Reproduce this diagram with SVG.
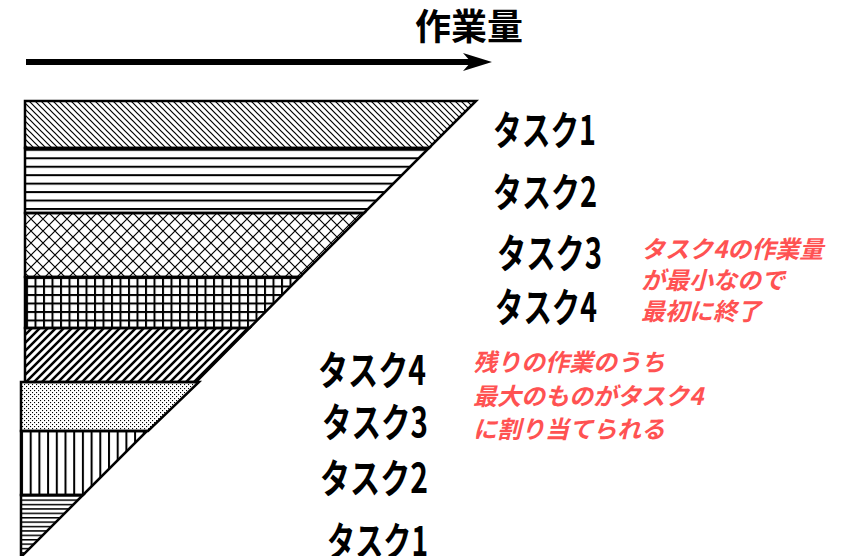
<svg xmlns="http://www.w3.org/2000/svg" width="847" height="556" viewBox="0 0 847 556">
<style>
.band{stroke:#000;stroke-width:2.5;stroke-linejoin:miter}
.lbl{font-family:"Noto Sans CJK JP","Noto Sans",sans-serif;font-weight:bold;font-size:40px;fill:#000}
.note{font-family:"Noto Sans CJK JP","Noto Sans",sans-serif;font-weight:bold;font-style:italic;font-size:24px;fill:#ff5252}
.title{font-family:"Noto Sans CJK JP","Noto Sans",sans-serif;font-weight:bold;font-size:36px;fill:#000}
</style>
<defs>
<pattern id="pBack" patternUnits="userSpaceOnUse" width="6" height="6">
<path d="M0,0 L6,6 M-1,5 L1,7 M5,-1 L7,1" stroke="#000" stroke-width="1.2"/>
</pattern>
<pattern id="pHoriz" patternUnits="userSpaceOnUse" x="0" y="157.3" width="20" height="8.45">
<rect x="0" y="0" width="20" height="2" fill="#000"/>
</pattern>
<pattern id="pDiamond" patternUnits="userSpaceOnUse" x="25" y="213" width="12" height="12">
<path d="M0,0 L12,12 M12,0 L0,12" stroke="#000" stroke-width="1.2"/>
</pattern>
<pattern id="pGrid" patternUnits="userSpaceOnUse" x="26" y="277" width="8.5" height="8.5">
<rect x="0" y="0" width="8.5" height="2" fill="#000"/>
<rect x="0" y="0" width="2" height="8.5" fill="#000"/>
</pattern>
<pattern id="pFwd" patternUnits="userSpaceOnUse" width="8" height="8">
<path d="M0,8 L8,0 M-2,2 L2,-2 M6,10 L10,6" stroke="#000" stroke-width="2.5"/>
</pattern>
<pattern id="pDots" patternUnits="userSpaceOnUse" width="4" height="4">
<rect x="0" y="0" width="1.1" height="1.1" fill="#000"/>
<rect x="2" y="2" width="1.1" height="1.1" fill="#000"/>
</pattern>
<pattern id="pVert" patternUnits="userSpaceOnUse" x="21" y="0" width="8.7" height="20">
<rect x="0" y="0" width="2" height="20" fill="#000"/>
</pattern>
<pattern id="pThin" patternUnits="userSpaceOnUse" x="0" y="495" width="20" height="4.4">
<rect x="0" y="0" width="20" height="1.5" fill="#000"/>
</pattern>
</defs>
<rect width="847" height="556" fill="#fff"/>

<g id="axis">
<line x1="26" y1="62" x2="472" y2="62" stroke="#000" stroke-width="6"/>
<polygon points="492,62 463,53 471,62 463,71" fill="#000"/>
<text class="title" x="415" y="40">作業量</text>
</g>

<g id="band-task1-top">
<polygon class="band" fill="url(#pBack)" points="25,101 476,101 429,148 25,148"/>
</g>
<g id="band-task2-top">
<polygon class="band" fill="url(#pHoriz)" points="25,148 429,148 364,213 25,213"/>
</g>
<g id="band-task3-top">
<polygon class="band" fill="url(#pDiamond)" points="25,213 364,213 300,277 25,277"/>
</g>
<g id="band-task4-top">
<polygon class="band" fill="url(#pGrid)" points="25,277 300,277 249.5,328 25,328"/>
</g>
<g id="band-task4-bottom">
<polygon class="band" fill="url(#pFwd)" points="25,328 249.5,328 196,382 25,382"/>
</g>
<g id="band-task3-bottom">
<polygon class="band" fill="url(#pDots)" points="21,382 199,382 148,431 21,431"/>
</g>
<g id="band-task2-bottom">
<polygon class="band" fill="url(#pVert)" points="21,431 147,431 83,495 21,495"/>
</g>
<g id="band-task1-bottom">
<polygon class="band" fill="url(#pThin)" points="21,495 83,495 20,558 21,558"/>
</g>

<g id="labels-top">
<text class="lbl" x="493" y="145" textLength="103" lengthAdjust="spacingAndGlyphs">タスク1</text>
<text class="lbl" x="493" y="207" textLength="104" lengthAdjust="spacingAndGlyphs">タスク2</text>
<text class="lbl" x="497" y="268" textLength="105" lengthAdjust="spacingAndGlyphs">タスク3</text>
<text class="lbl" x="495" y="322" textLength="102" lengthAdjust="spacingAndGlyphs">タスク4</text>
</g>
<g id="labels-bottom">
<text class="lbl" x="318" y="385" textLength="108" lengthAdjust="spacingAndGlyphs">タスク4</text>
<text class="lbl" x="322" y="437" textLength="106" lengthAdjust="spacingAndGlyphs">タスク3</text>
<text class="lbl" x="320" y="493" textLength="108" lengthAdjust="spacingAndGlyphs">タスク2</text>
<text class="lbl" x="327" y="556" textLength="101" lengthAdjust="spacingAndGlyphs">タスク1</text>
</g>

<g id="note-1">
<text class="note" x="641" y="258">タスク4の作業量</text>
<text class="note" x="641" y="289">が最小なので</text>
<text class="note" x="641" y="320">最初に終了</text>
</g>
<g id="note-2">
<text class="note" x="473" y="371">残りの作業のうち</text>
<text class="note" x="473" y="405">最大のものがタスク4</text>
<text class="note" x="473" y="438">に割り当てられる</text>
</g>
</svg>
